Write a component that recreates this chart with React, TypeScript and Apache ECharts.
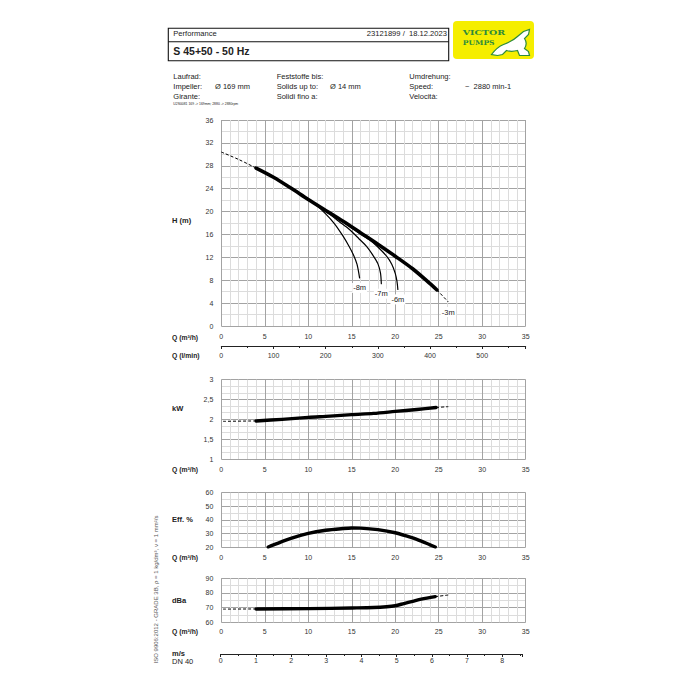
import React, { useEffect, useRef } from "react";
import * as echarts from "echarts";

const FONT = '"Liberation Sans", Arial, sans-serif';
const SERIF = '"DejaVu Serif", "Liberation Serif", serif';

// ---- Data ----
const qMax = 35;
const qInterval = 5;

// H (m) vs Q (m3/h)
const hDashStart: number[][] = [[0, 30.4], [2, 29.1], [4, 27.6]];
const hMain: number[][] = [[4, 27.6], [6, 26.0], [8, 24.1], [10, 22.1], [12, 20.2], [14, 18.3], [16, 16.3], [18, 14.3], [20, 12.2], [22, 10.0], [24, 7.4], [24.8, 6.3]];
const hDashEnd: number[][] = [[24.8, 6.3], [26.1, 4.2]];
const h8m: number[][] = [[10.1, 22.0], [11, 21.0], [12, 19.6], [13, 17.9], [14, 15.7], [14.7, 13.9], [15.2, 12.4], [15.6, 10.8], [15.9, 8.4]];
const h7m: number[][] = [[11.3, 20.8], [12.5, 19.5], [13.5, 18.3], [14.7, 16.9], [15.8, 15.3], [16.7, 13.9], [17.5, 12.2], [18.0, 10.9], [18.3, 9.3], [18.4, 7.4]];
const h6m: number[][] = [[14.0, 18.2], [15.5, 16.6], [17, 15.1], [18, 13.8], [19, 12.2], [19.6, 10.8], [20.0, 9.2], [20.2, 7.8], [20.3, 6.4]];
const curveLabels = ["-8m", "-7m", "-6m", "-3m"];

// kW
const kwDashStart: number[][] = [[0.2, 1.95], [4, 1.96]];
const kwMain: number[][] = [[4, 1.96], [7, 2.0], [10, 2.05], [12.5, 2.08], [15, 2.12], [17.5, 2.15], [20, 2.2], [22.5, 2.25], [24.7, 2.3]];
const kwDashEnd: number[][] = [[24.7, 2.3], [26.1, 2.32]];

// Efficiency %
const effMain: number[][] = [[5.4, 20], [6, 21.5], [8, 26.3], [10, 30], [12, 32.3], [14, 33.6], [15, 34], [16, 33.9], [18, 32.8], [20, 30.5], [22, 26.7], [23, 24.3], [24, 21.6], [24.6, 20]];

// dBa
const dbDashStart: number[][] = [[0.2, 69], [4, 69.1]];
const dbMain: number[][] = [[4, 69.1], [10, 69.3], [15, 69.8], [17.5, 70.1], [19, 70.6], [20, 71.3], [21, 72.8], [22, 74.3], [23, 75.8], [24.6, 77.5]];
const dbDashEnd: number[][] = [[24.6, 77.5], [26.1, 78.6]];

// secondary axes
const lminMax = (qMax * 1000) / 60;
const msMax = 8.57;

const fishPath =
  "M0,25 C3,21 7,17 12,15 C17,13 22,11 26,7 L32,2 L38,0 L37,5 L33,9 C35,12 35,16 33,19 L37,22 L38,26 L28,26 L26,21 C22,22 18,22 15,21 L11,25 L6,26 Z";
try {
  echarts.graphic.registerShape("vpfish", echarts.graphic.extendPath(fishPath, {}) as any);
} catch (e) {}

const PL = 221.3;
const PW = 304.4;

const grids = [
  { left: PL, top: 120, width: PW, height: 206 },
  { left: PL, top: 345, width: PW, height: 1 },
  { left: PL, top: 379.7, width: PW, height: 79.3 },
  { left: PL, top: 492.7, width: PW, height: 54.3 },
  { left: PL, top: 578.3, width: PW, height: 44 },
  { left: 220.7, top: 653, width: 301.6, height: 1 },
].map((g) => ({ ...g, containLabel: false, outerBoundsMode: "none", show: false }));

const labelStyle = { fontSize: 7, color: "#333", fontFamily: FONT };
const major = { show: true, lineStyle: { color: "#a3a3a3", width: 1 } };
const minor = { show: true, lineStyle: { color: "#dcdcdc", width: 1 } };

function qAxis(gi: number, margin: number) {
  return {
    type: "value",
    gridIndex: gi,
    min: 0,
    max: qMax,
    interval: qInterval,
    axisLine: { show: false },
    axisTick: { show: false },
    axisLabel: { ...labelStyle, margin },
    splitLine: major,
    minorTick: { show: false, splitNumber: 5 },
    minorSplitLine: minor,
  };
}

function yAxis(gi: number, min: number, max: number, interval: number, minorSplit: number, comma = false) {
  return {
    type: "value",
    gridIndex: gi,
    min,
    max,
    interval,
    axisLine: { show: false },
    axisTick: { show: false },
    axisLabel: {
      ...labelStyle,
      margin: 8,
      formatter: (v: number) => (comma ? String(v).replace(".", ",") : String(v)),
    },
    splitLine: major,
    minorTick: { show: false, splitNumber: minorSplit },
    minorSplitLine: minor,
  };
}

function line(gi: number, data: number[][], width: number, dashed: boolean) {
  return {
    type: "line",
    xAxisIndex: gi,
    yAxisIndex: gi,
    data,
    symbol: "none",
    showSymbol: false,
    silent: true,
    smooth: 0.3,
    lineStyle: { color: "#000", width, type: dashed ? [3, 2] : "solid", cap: dashed ? "butt" : "round", join: "round" },
    z: dashed ? 3 : 4,
  };
}

function txt(text: string, x: number, y: number, o: any = {}) {
  const font = `${o.bold ? "bold " : ""}${o.size || 7.5}px ${o.family || FONT}`;
  return {
    type: "text",
    x,
    y,
    rotation: o.rotation || 0,
    scaleX: o.scaleX || 1,
    silent: true,
    z: 10,
    style: {
      text,
      fill: o.color || "#222",
      font,
      align: o.align || "left",
      verticalAlign: "middle",
      textAlign: o.align || "left",
      textVerticalAlign: "middle",
    },
  };
}

export default function App() {
  const ref = useRef<HTMLDivElement>(null);
  useEffect(() => {
    if (!ref.current) return;
    const chart = echarts.init(ref.current, undefined, { renderer: "svg" });
    const green = "#2e8b3c";
    const ends = [h8m, h7m, h6m, hDashEnd].map((c) => c[c.length - 1]);
    const curveLabel = {
      show: true,
      position: "bottom",
      distance: 5,
      fontSize: 7.5,
      fontFamily: FONT,
      color: "#222",
      textBorderWidth: 0,
      backgroundColor: "#fff",
      padding: [1, 1],
    };
    const option: any = {
      animation: false,
      backgroundColor: "#fff",
      grid: grids,
      xAxis: [
        qAxis(0, 7),
        {
          type: "value",
          gridIndex: 1,
          min: 0,
          max: lminMax,
          interval: 100,
          axisLine: { show: true, lineStyle: { color: "#222", width: 1 } },
          axisTick: { show: true, length: 3, lineStyle: { color: "#222" } },
          minorTick: { show: true, splitNumber: 2, length: 2, lineStyle: { color: "#222" } },
          axisLabel: { ...labelStyle, margin: 6, showMaxLabel: false },
          splitLine: { show: false },
        },
        qAxis(2, 7),
        qAxis(3, 7),
        qAxis(4, 6),
        {
          type: "value",
          gridIndex: 5,
          min: 0,
          max: msMax,
          interval: 1,
          axisLine: { show: true, lineStyle: { color: "#222", width: 1 } },
          axisTick: { show: true, length: 3, lineStyle: { color: "#222" } },
          minorTick: { show: true, splitNumber: 2, length: 2, lineStyle: { color: "#222" } },
          axisLabel: { ...labelStyle, margin: 3, showMaxLabel: false },
          splitLine: { show: false },
        },
      ],
      yAxis: [
        yAxis(0, 0, 36, 4, 2),
        { type: "value", gridIndex: 1, show: false, min: 0, max: 1 },
        yAxis(2, 1, 3, 0.5, 3, true),
        yAxis(3, 20, 60, 10, 2),
        yAxis(4, 60, 90, 10, 2),
        { type: "value", gridIndex: 5, show: false, min: 0, max: 1 },
      ],
      series: [
        line(0, hDashStart, 1, true),
        line(0, hMain, 3.6, false),
        line(0, hDashEnd, 1, true),
        line(0, h8m, 1.2, false),
        line(0, h7m, 1.2, false),
        line(0, h6m, 1.2, false),
        {
          type: "scatter",
          xAxisIndex: 0,
          yAxisIndex: 0,
          symbol: "circle",
          symbolSize: 0.1,
          silent: true,
          color: "#222",
          itemStyle: { color: "#222", opacity: 1 },
          z: 6,
          data: ends.map((p, i) => ({ value: p, label: { ...curveLabel, formatter: curveLabels[i] } })),
          label: curveLabel,
        },
        line(2, kwDashStart, 1, true),
        line(2, kwMain, 3.4, false),
        line(2, kwDashEnd, 1, true),
        line(3, effMain, 3.4, false),
        line(4, dbDashStart, 1, true),
        line(4, dbMain, 3.4, false),
        line(4, dbDashEnd, 1, true),
      ],
      graphic: [
        // header box
        { type: "rect", silent: true, shape: { x: 168.3, y: 28.3, width: 280.4, height: 32.4 }, style: { fill: "none", stroke: "#111", lineWidth: 1.1 } },
        { type: "line", silent: true, shape: { x1: 168.3, y1: 41.7, x2: 448.7, y2: 41.7 }, style: { stroke: "#111", lineWidth: 1.1 } },
        txt("Performance", 173.3, 33, { size: 7.6 }),
        txt("23121899 /  18.12.2023", 447, 33, { size: 7.6, align: "right" }),
        txt("S 45+50 - 50 Hz", 173.3, 51, { size: 10.5, bold: true }),
        // logo
        { type: "rect", silent: true, shape: { x: 453, y: 21, width: 81, height: 38, r: 4 }, style: { fill: "#f5ee00" } },
        txt("VICTOR", 462.7, 32.6, { size: 8, bold: true, family: SERIF, color: green, scaleX: 1.18 }),
        txt("PUMPS", 462.7, 42.3, { size: 6.6, bold: true, family: SERIF, color: green, scaleX: 1.15 }),
        { type: "vpfish", silent: true, x: 491.5, y: 29.5, style: { fill: "#fff", stroke: green, lineWidth: 1.2 } },
        // info block
        txt("Laufrad:", 173.3, 76),
        txt("Impeller:", 173.3, 86.3),
        txt("Ø 169 mm", 215, 86.3),
        txt("Girante:", 173.3, 96),
        txt("U2S0081 169 -> 169mm; 2880 -> 2880rpm", 173.3, 104, { size: 3.4 }),
        txt("Feststoffe bis:", 276.7, 76),
        txt("Solids up to:", 276.7, 86.3),
        txt("Ø 14 mm", 330, 86.3),
        txt("Solidi fino a:", 276.7, 96),
        txt("Umdrehung:", 409.3, 76),
        txt("Speed:", 409.3, 86.3),
        txt("~  2880 min-1", 465, 86.3),
        txt("Velocità:", 409.3, 96),
        // axis titles
        txt("H (m)", 172, 220, { size: 7.5, bold: true }),
        txt("Q (m³/h)", 172, 337, { size: 6.8, bold: true }),
        txt("Q (l/min)", 172, 355.3, { size: 6.8, bold: true }),
        txt("kW", 172, 408, { size: 7.5, bold: true }),
        txt("Q (m³/h)", 172, 469.3, { size: 6.8, bold: true }),
        txt("Eff. %", 172, 519.3, { size: 7.5, bold: true }),
        txt("Q (m³/h)", 172, 557.3, { size: 6.8, bold: true }),
        txt("dBa", 172, 600, { size: 7.5, bold: true }),
        txt("Q (m³/h)", 172, 631.7, { size: 6.8, bold: true }),
        txt("m/s", 172, 653.3, { size: 7.5, bold: true }),
        txt("DN 40", 172, 661.8, { size: 7.5 }),
        txt("ISO 9906:2012 - GRADE 3B, ρ = 1 kg/dm³, ν = 1 mm²/s", 156, 589.5, { size: 6, align: "center", rotation: Math.PI / 2, color: "#555" }),
      ],
    };
    chart.setOption(option);
    return () => chart.dispose();
  }, []);
  return (
    <div
      ref={ref}
      style={{ position: "absolute", left: 0, top: 0, width: 700, height: 700, background: "#fff" }}
    />
  );
}
